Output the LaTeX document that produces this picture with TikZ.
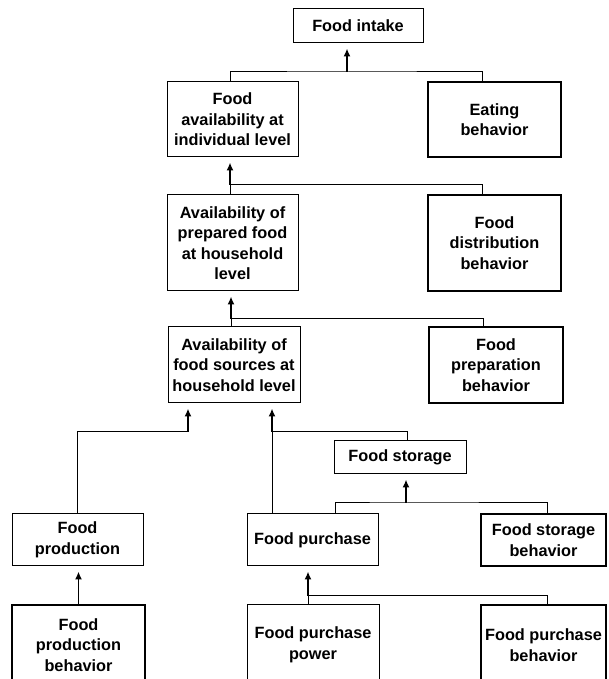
\documentclass[tikz,border=0pt]{standalone}
\usepackage{fontspec}
\setmainfont{Liberation Sans}
\usetikzlibrary{arrows.meta}

\begin{document}
\begin{tikzpicture}[x=1pt,y=1pt,
  box/.style={draw, line width=1pt, inner sep=0pt, align=center,
    font=\bfseries\fontsize{16.3}{20.5}\selectfont, minimum width=131pt},
  boldbox/.style={box, line width=2.6pt},
  link/.style={line width=1pt},
  up/.style={line width=1.6pt, -{Latex[length=8pt,width=7pt]}, shorten >=5pt}]
  \useasboundingbox (0,0) rectangle (608,679);
%верх
  \node[box, minimum width=130pt, minimum height=34pt] (intake) at (358,653) {Food intake};
  \node[box, minimum height=75pt] (indiv) at (232.5,559.5) {Food\\ availability at\\ individual level};
  \node[boldbox, minimum width=133pt, minimum height=75pt] (eating) at (494.5,559.5) {Eating\\ behavior};
  \node[box, minimum height=96pt] (prepared) at (232.5,436) {Availability of\\ prepared food\\ at household\\ level};
  \node[boldbox, minimum width=133pt, minimum height=96pt] (distrib) at (494.5,436) {Food\\ distribution\\ behavior};
  \node[box, minimum width=132pt, minimum height=76pt] (sources) at (234,314) {Availability of\\ food sources at\\ household level};
  \node[boldbox, minimum width=134pt, minimum height=76pt] (prepbeh) at (496,314) {Food\\ preparation\\ behavior};
%низ
  \node[box, minimum width=132pt, minimum height=33pt] (storage) at (400,221.5) {Food storage};
  \node[box, minimum height=52pt] (production) at (77.5,139) {Food\\ production};
  \node[box, minimum height=52pt] (purchase) at (312.5,139) {Food purchase};
  \node[boldbox, minimum width=125pt, minimum height=52pt] (storbeh) at (543.5,139) {Food storage\\ behavior};
  \node[boldbox, minimum width=133pt, minimum height=80pt] (prodbeh) at (78.5,34) {Food\\ production\\ behavior};
  \node[box, minimum width=132pt, minimum height=80pt] (power) at (313,34) {Food purchase\\ power};
  \node[boldbox, minimum width=125pt, minimum height=80pt] (purchbeh) at (543.5,34) {Food purchase\\ behavior};
%связи
  \coordinate (j1) at (347,607);
  \draw[link] ([xshift=-2.5pt]indiv.north) |- (j1) -| ([xshift=-12.5pt]eating.north);
  \draw[up] (j1) -- (j1 |- intake.south);
  \coordinate (j2) at (230,494);
  \draw[link] (prepared.north -| j2) -- (j2) -| ([xshift=-12.5pt]distrib.north);
  \draw[up] (j2) -- (j2 |- indiv.south);
  \coordinate (j3) at (231,360);
  \draw[link] (sources.north -| j3) -- (j3) -| ([xshift=-13pt]prepbeh.north);
  \draw[up] (j3) -- (j3 |- prepared.south);
  \coordinate (j4) at (188,247);
  \draw[link] (production.north) |- (j4);
  \draw[up] (j4) -- (j4 |- sources.south);
  \coordinate (j5) at (272,247);
  \draw[link] (purchase.north -| j5) -- (j5) -| ([xshift=7pt]storage.north);
  \draw[up] (j5) -- (j5 |- sources.south);
  \coordinate (j6) at (406,176);
  \draw[link] ([xshift=22.5pt]purchase.north) |- (j6) -| ([xshift=3.5pt]storbeh.north);
  \draw[up] (j6) -- (j6 |- storage.south);
  \draw[up] (prodbeh.north) -- (prodbeh.north |- production.south);
  \coordinate (j7) at (308,83);
  \draw[link] (power.north -| j7) -- (j7) -| ([xshift=3.5pt]purchbeh.north);
  \draw[up] (j7) -- (j7 |- purchase.south);
\end{tikzpicture}
\end{document}
